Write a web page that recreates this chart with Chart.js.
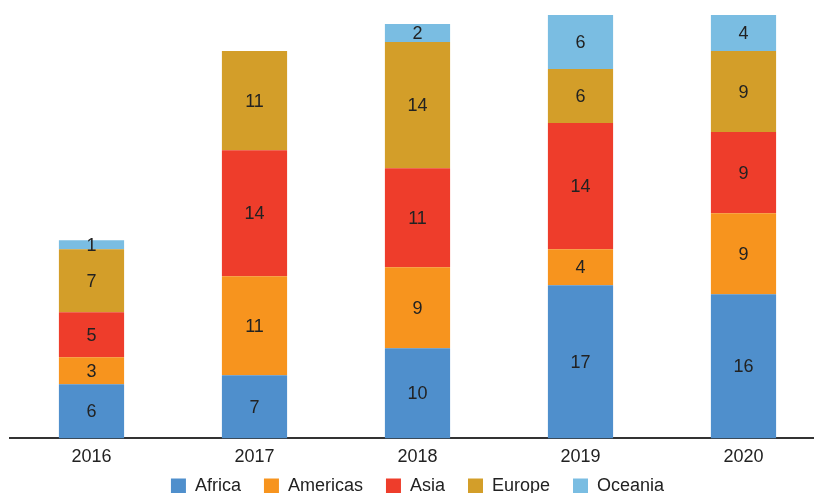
<!DOCTYPE html>
<html>
<head>
<meta charset="utf-8">
<script src="https://cdn.jsdelivr.net/npm/chart.js@4.4.1/dist/chart.umd.min.js"></script>
<style>
html,body{margin:0;padding:0;background:#fff;overflow:hidden;}
#wrap{position:relative;width:834px;height:493px;}
</style>
</head>
<body>
<div id="wrap"><canvas id="c" width="834" height="493"></canvas></div>
<script>
const years = ["2016","2017","2018","2019","2020"];
const africa   = [6, 7, 10, 17, 16];
const americas = [3, 11, 9, 4, 9];
const asia     = [5, 14, 11, 14, 9];
const europe   = [7, 11, 14, 6, 9];
const oceania  = [1, 0, 2, 6, 4];
const yMax = 47;

const FONT = "'Liberation Sans', Arial, sans-serif";
const LEGEND_PAD = 23;
const LEGEND_CENTER_Y = 486;
const LEGEND_BOX_HEIGHT = 17;

const labelPlugin = {
  id: 'segLabels',
  afterDatasetsDraw(chart) {
    const ctx = chart.ctx;
    ctx.save();
    ctx.font = "18px " + FONT;
    ctx.fillStyle = "#222";
    ctx.textAlign = "center";
    ctx.textBaseline = "middle";
    chart.data.datasets.forEach((ds, i) => {
      const meta = chart.getDatasetMeta(i);
      if (meta.hidden) return;
      meta.data.forEach((bar, j) => {
        const v = ds.data[j];
        if (!v) return;
        const y = (bar.y + bar.base) / 2;
        ctx.fillText(String(v), bar.x, y + 1);
      });
    });
    ctx.restore();
  }
};

const legendFix = {
  id: 'legendFix',
  beforeLayout(chart) {
    const lg = chart.legend;
    if (lg && !lg._patched) {
      const orig = lg.fit;
      lg.fit = function () { orig.call(this); this.height = LEGEND_BOX_HEIGHT; };
      lg._patched = true;
    }
  },
  afterLayout(chart) {
    const lg = chart.legend;
    if (lg) {
      lg.top = LEGEND_CENTER_Y - LEGEND_PAD - 9;
    }
  }
};

const mk = (label, data, color) => ({
  label, data, backgroundColor: color, borderWidth: 0
});

new Chart(document.getElementById('c'), {
  type: 'bar',
  data: {
    labels: years,
    datasets: [
      mk('Africa', africa, '#4f8fcc'),
      mk('Americas', americas, '#f7941e'),
      mk('Asia', asia, '#ee3d2b'),
      mk('Europe', europe, '#d39e29'),
      mk('Oceania', oceania, '#7abde2')
    ]
  },
  options: {
    responsive: false,
    animation: false,
    devicePixelRatio: 1,
    layout: { padding: { left: 10, right: 9, top: 15, bottom: 0 } },
    datasets: { bar: { categoryPercentage: 1.0, barPercentage: 0.4 } },
    scales: {
      x: {
        stacked: true,
        grid: { display: false, drawTicks: false },
        border: { display: true, color: '#333', width: 2 },
        ticks: { color: '#222', font: { family: FONT, size: 18 }, padding: 8 }
      },
      y: {
        stacked: true, display: false, min: 0, max: yMax
      }
    },
    plugins: {
      legend: {
        position: 'bottom',
        labels: {
          color: '#222',
          font: { family: FONT, size: 18 },
          boxWidth: 15, boxHeight: 15, padding: LEGEND_PAD
        }
      },
      tooltip: { enabled: false }
    }
  },
  plugins: [labelPlugin, legendFix]
});
</script>
</body>
</html>
